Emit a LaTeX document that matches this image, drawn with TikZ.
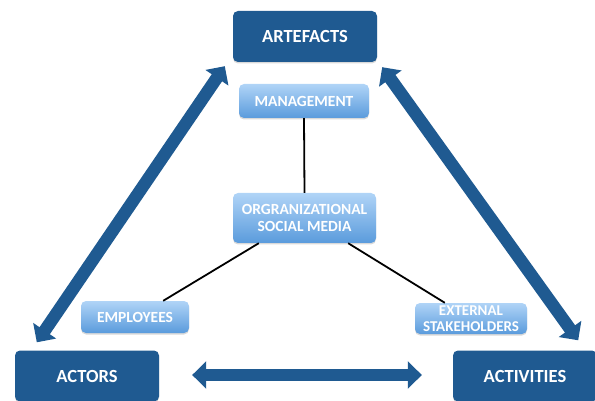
\documentclass[tikz,border=0pt]{standalone}
\usepackage{fontspec}
\setmainfont{Carlito}
\usetikzlibrary{arrows.meta,shadows,calc}
\definecolor{darkbox}{HTML}{1F5A91}
\definecolor{lighttop}{HTML}{B0D4F7}
\definecolor{lightbot}{HTML}{5A9BDC}
\begin{document}
\begin{tikzpicture}[x=1pt,y=-1pt,
  mainbox/.style={fill=darkbox, rounded corners=5pt, text=white,
    font=\bfseries\fontsize{18.5}{20}\selectfont, inner sep=0pt,
    minimum width=144pt, minimum height=51pt,
    drop shadow={opacity=0.3, shadow xshift=0pt, shadow yshift=-1.5pt}},
  subbox/.style={top color=lighttop, bottom color=lightbot, rounded corners=5pt,
    text=white, font=\bfseries\fontsize{15.5}{17}\selectfont, inner sep=0pt,
    align=center,
    drop shadow={opacity=0.3, shadow xshift=0pt, shadow yshift=-1.5pt}},
  link/.style={line width=1.8pt, black},
  bigarrow/.style={line width=12.5pt, darkbox,
    {Triangle[width=27pt,length=14pt]}-{Triangle[width=27pt,length=14pt]}}
]
\useasboundingbox (0,0) rectangle (595,401);

% main corner boxes
\node[mainbox] (art)  at (305,36.5) {ARTEFACTS};
\node[mainbox] (act)  at (87,376)   {ACTORS};
\node[mainbox] (acti) at (525,376)  {ACTIVITIES};

% inner boxes
\node[subbox, minimum width=130pt, minimum height=34pt] (mgmt) at (304,101) {MANAGEMENT};
\node[subbox, minimum width=143pt, minimum height=50pt] (org) at (304.5,218) {ORGRANIZATIONAL\\SOCIAL MEDIA};
\node[subbox, minimum width=108pt, minimum height=32pt] (emp) at (135,317) {EMPLOYEES};
\node[subbox, minimum width=112pt, minimum height=31pt,
      font=\bfseries\fontsize{15}{15.5}\selectfont] (ext) at (471,318.5) {EXTERNAL\\STAKEHOLDERS};

% end points of the connectors
\coordinate (orgL) at ($(org.south west)+(26,0)$);
\coordinate (orgR) at ($(org.south east)+(-28,0)$);
\coordinate (empT) at ($(emp.north east)+(-26,0)$);
\coordinate (extT) at ($(ext.north west)+(30,0)$);
\coordinate (artL) at ($(art.south west)+(-8,4)$);
\coordinate (artR) at ($(art.south east)+(5,5)$);
\coordinate (actT) at ($(act.north west)+(22,-8)$);
\coordinate (actiT) at ($(acti.north east)+(-19,-10)$);
\coordinate (actE) at ($(act.east)+(33,-1)$);
\coordinate (actiW) at ($(acti.west)+(-31,-1)$);

% black links
\draw[link] (mgmt.south) -- (org.north);
\draw[link] (orgL) -- (empT);
\draw[link] (orgR) -- (extT);

% double-headed arrows
\draw[bigarrow] (actT) -- (artL);
\draw[bigarrow] (artR) -- (actiT);
\draw[bigarrow] (actE) -- (actiW);
\end{tikzpicture}
\end{document}
